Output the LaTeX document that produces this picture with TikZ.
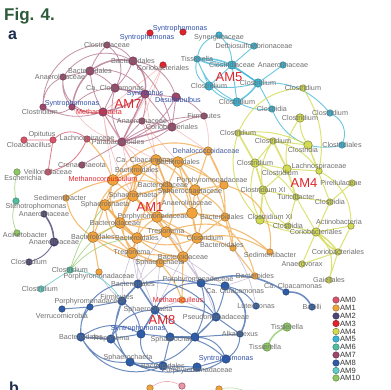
\documentclass[tikz,border=0pt]{standalone}
\usepackage{fontspec}
\setmainfont{Liberation Sans}
\usepackage{tikz}
\usetikzlibrary{backgrounds}
\definecolor{amzero}{HTML}{D9546A}
\definecolor{amone}{HTML}{F0A23C}
\definecolor{amtwo}{HTML}{4F4478}
\definecolor{amthree}{HTML}{E0242C}
\definecolor{amfour}{HTML}{D3DB52}
\definecolor{amfive}{HTML}{3AB4D4}
\definecolor{amsix}{HTML}{4FBE9E}
\definecolor{amseven}{HTML}{9C476B}
\definecolor{ameight}{HTML}{2F5CA6}
\definecolor{amnine}{HTML}{62CBC3}
\definecolor{amten}{HTML}{8DC865}
\definecolor{figgreen}{HTML}{2E5A3A}
\definecolor{panelnavy}{HTML}{1E2D4F}
\definecolor{synblue}{HTML}{2F4FA8}
\definecolor{labgray}{HTML}{6E6E6E}
\definecolor{lavgray}{HTML}{B4A6C6}
\tikzset{
  dot/.style={circle,inner sep=0pt,minimum size=6.5pt,line width=0.4pt},
  bigdot/.style={minimum size=11pt},
  middot/.style={minimum size=8.5pt},
  am0/.style={dot,fill=amzero,draw=amzero!60!black},
  am1/.style={dot,fill=amone,draw=amone!60!black},
  am2/.style={dot,fill=amtwo,draw=amtwo!60!black},
  am3/.style={dot,fill=amthree,draw=amthree!60!black},
  am4/.style={dot,fill=amfour,draw=amfour!50!black},
  am5/.style={dot,fill=amfive,draw=amfive!60!black},
  am6/.style={dot,fill=amsix,draw=amsix!60!black},
  am7/.style={dot,fill=amseven,draw=amseven!60!black},
  am8/.style={dot,fill=ameight,draw=ameight!60!black},
  am9/.style={dot,fill=amnine,draw=amnine!60!black},
  am10/.style={dot,fill=amten,draw=amten!60!black},
  lbl/.style={font=\fontsize{7.2}{8}\selectfont,text=labgray,inner sep=0pt},
  lab/.style={label={[lbl]center:#1}},
  amname/.style={font=\fontsize{13}{13}\selectfont,text=amthree,inner sep=0pt},
  legtxt/.style={font=\fontsize{7.6}{8}\selectfont,text=black!80,inner sep=0.5pt},
  e0/.style={amzero,opacity=0.8,line width=0.8pt},
  e1/.style={amone,opacity=0.7,line width=1.1pt},
  e2/.style={amtwo,opacity=0.8,line width=0.9pt},
  e4/.style={amfour,opacity=0.8,line width=1pt},
  e5/.style={amfive,opacity=0.75,line width=0.9pt},
  e7/.style={amseven,opacity=0.6,line width=0.8pt},
  e8/.style={ameight,opacity=0.7,line width=1pt},
  e9/.style={amnine,opacity=0.8,line width=0.8pt},
  e10/.style={amten,opacity=0.75,line width=0.7pt},
  epink/.style={amthree!60!white,opacity=0.5,line width=0.6pt},
  elav/.style={lavgray,opacity=0.7,line width=0.6pt}
}
\begin{document}
\begin{tikzpicture}[x=1pt,y=-1pt]
  \useasboundingbox (0,0) rectangle (391,389);
  % Panel titles
  \node[font=\fontsize{17}{17}\selectfont\bfseries,text=figgreen,anchor=base west,inner sep=0pt] (fig) at (4,20) {Fig. 4.};
  \node[font=\fontsize{16}{16}\selectfont\bfseries,text=panelnavy,anchor=base west,inner sep=0pt] (pa) at (8,39) {a};
  \node[font=\fontsize{16}{16}\selectfont\bfseries,text=panelnavy,anchor=base west,inner sep=0pt] (pb) at (9,393) {b};
  % AM3
  \node[am3,label={[lbl,xshift=-3pt,yshift=-5pt]center:\color{synblue}Syntrophomonas}] (r1) at (150,33) {};
  \node[am3,label={[lbl,xshift=-3pt,yshift=3pt]center:\color{synblue}Syntrophomonas}] (r2) at (183,32) {};
  \node[am3,label={[lbl,yshift=-3pt]center:Coriobacteriales}] (r3) at (163,65) {};
  % AM7
  \node[am7,lab=Clostridiaceae] (p1) at (107,45) {};
  \node[am7,middot,lab=Bacteroidales] (p2) at (133,61) {};
  \node[am7,middot,lab=Bacteroidales] (p3) at (90,71) {};
  \node[am7,label={[lbl,xshift=-3pt]center:Anaerolinaceae}] (p4) at (63,77) {};
  \node[am7,middot,lab=Ca. Cloacamonas] (p5) at (115,88) {};
  \node[am7,middot,lab={\color{synblue}Syntrophus}] (p6) at (145,94) {};
  \node[am7,middot,label={[lbl,xshift=2pt,yshift=-3pt]center:\color{synblue}Desulfobulbus}] (p7) at (176,97) {};
  \node[am7,label={[lbl,yshift=3pt]center:\color{synblue}Syntrophomonas}] (p8) at (72,107) {};
  \node[am7,label={[lbl,xshift=-3pt,yshift=-5pt]center:Clostridium}] (p9) at (43,107) {};
  \node[am7,middot,label={[lbl,xshift=-4pt]center:\color{amthree}Methanosaeta}] (p10) at (103,112) {};
  \node[am7,lab=Anaerolinaceae] (p11) at (142,121) {};
  \node[am7,middot,lab=Coriobacteriales] (p12) at (172,127) {};
  \node[am7,lab=Firmicutes] (p13) at (204,116) {};
  \node[am7,middot,label={[lbl,xshift=-4pt]center:Parabacteroides}] (p14) at (122,142) {};
  \node[am7,lab=Crenarchaeota] (p15) at (82,165) {};
  \node[amname] (am7txt) at (128,104) {AM7};
  % AM0
  \node[am0,label={[lbl,xshift=5pt,yshift=-5pt]center:Cloacibacillus}] (e1) at (24,140) {};
  \node[am0,label={[lbl,xshift=-11pt,yshift=5pt]center:Opitutus}] (e2) at (53,140) {};
  \node[am0,lab=Lachnospiraceae] (e3) at (87,139) {};
  \node[am0,lab=Veillonellaceae] (e4) at (48,172) {};
  % AM5
  \node[am5,label={[lbl,yshift=-3pt]center:Synergistaceae}] (c1) at (219,35) {};
  \node[am5,lab=Dethiosulfovibrionaceae] (c2) at (254,46) {};
  \node[am5,lab=Tissierella] (c3) at (197,59) {};
  \node[am5,middot,lab=Clostridiaceae] (c4) at (232,65) {};
  \node[am5,lab=Anaerolinaceae] (c5) at (283,65) {};
  \node[am5,middot,lab=Clostridium] (c6) at (209,86) {};
  \node[am5,middot,lab=Clostridium] (c7) at (258,83) {};
  \node[am5,middot,lab=Clostridium] (c8) at (237,102) {};
  \node[am5,lab=Clostridia] (c9) at (272,109) {};
  \node[am5,lab=Clostridium] (c10) at (330,113) {};
  \node[am5,lab=Clostridiales] (c11) at (342,145) {};
  \node[amname] (am5txt) at (229,77) {AM5};
  % AM4
  \node[am4,lab=Clostridium] (y1) at (303,88) {};
  \node[am4,middot,lab=Clostridium] (y2) at (300,118) {};
  \node[am4,lab=Clostridium] (y3) at (238,133) {};
  \node[am4,lab=Clostridium] (y4) at (273,141) {};
  \node[am4,middot,label={[lbl,xshift=-5pt,yshift=-5pt]center:Clostridia}] (y5) at (308,145) {};
  \node[am4,middot,lab=Clostridium] (y6) at (255,163) {};
  \node[am4,middot,label={[lbl,xshift=-7pt,yshift=-4pt]center:Clostridium}] (y7) at (287,169) {};
  \node[am4,label={[lbl,yshift=4pt]center:Lachnospiraceae}] (y8) at (319,171) {};
  \node[am4,label={[lbl,xshift=-11pt]center:Pirellulaceae}] (y9) at (352,183) {};
  \node[am4,middot,lab=Clostridium XI] (y10) at (263,190) {};
  \node[am4,lab=Turicibacter] (y11) at (296,197) {};
  \node[am4,lab=Clostridia] (y12) at (330,202) {};
  \node[am4,middot,label={[lbl,xshift=10pt,yshift=3pt]center:Clostridium XI}] (y13) at (260,220) {};
  \node[am4,lab=Clostridia] (y14) at (288,226) {};
  \node[am4,label={[lbl,xshift=-12pt,yshift=4pt]center:Actinobacteria}] (y15) at (351,226) {};
  \node[am4,middot,lab=Coriobacteriales] (y16) at (316,232) {};
  \node[am4,lab=Coriobacteriales] (y17) at (338,252) {};
  \node[am4,lab=Anaerovorax] (y18) at (302,264) {};
  \node[am4,lab=Gaiellales] (y19) at (329,280) {};
  \node[amname] (am4txt) at (304,183) {AM4};
  % AM1
  \node[am1,middot,label={[lbl,xshift=-2pt]center:\color{synblue!70!gray}Dehalococcoidaceae}] (o1) at (208,151) {};
  \node[am1,bigdot,label={[lbl,xshift=-11pt]center:Ca. Cloacamonas}] (o2) at (156,160) {};
  \node[am1,bigdot,lab=Bacteroidales] (o3) at (178,162) {};
  \node[am1,bigdot,lab=Bacteroidales] (o4) at (137,170) {};
  \node[am1,bigdot,label={[lbl,xshift=-10pt]center:\color{amthree}Methanocorpusculum}] (o5) at (113,180) {};
  \node[am1,bigdot,label={[lbl,xshift=-4pt,yshift=2pt]center:Bacteroidaceae}] (o6) at (167,187) {};
  \node[am1,bigdot,label={[lbl,xshift=-5pt,yshift=-2pt]center:Sphaerochaetaceae}] (o7) at (195,190) {};
  \node[am1,middot,label={[lbl,xshift=-12pt,yshift=4pt]center:Porphyromonadaceae}] (o8) at (224,185) {};
  \node[am1,bigdot,lab=Sphaerochaeta] (o9) at (133,196) {};
  \node[am1,bigdot,lab=Sphaerochaeta] (o10) at (105,205) {};
  \node[am1,label={[lbl,xshift=-6pt]center:Sedimentibacter}] (o11) at (66,198) {};
  \node[am1,bigdot,label={[lbl,xshift=-4pt]center:Porphyromonadaceae}] (o12) at (157,217) {};
  \node[am1,bigdot,label={[lbl,xshift=-5pt,yshift=10pt]center:Anaerolinaceae}] (o13) at (192,213) {};
  \node[am1,bigdot,label={[lbl,xshift=-5pt]center:Bacteroidaceae}] (o14) at (120,223) {};
  \node[am1,bigdot,lab=Bacteroidales] (o15) at (93,237) {};
  \node[am1,bigdot,lab=Treponema] (o16) at (166,232) {};
  \node[am1,bigdot,lab=Bacteroidales] (o17) at (137,238) {};
  \node[am1,bigdot,label={[lbl,xshift=8pt]center:Clostridium}] (o18) at (197,238) {};
  \node[am1,middot,label={[lbl,xshift=-3pt]center:Bacteroidales}] (o19) at (225,217) {};
  \node[am1,bigdot,lab=Treponema] (o20) at (132,253) {};
  \node[am1,bigdot,lab=Bacteroidaceae] (o21) at (183,257) {};
  \node[am1,middot,lab=Sphaerochaeta] (o22) at (160,263) {};
  \node[am1,label={[lbl,yshift=-5pt]center:Porphyromonadaceae}] (o23) at (99,272) {};
  \node[am1,label={[lbl,xshift=-11pt,yshift=3pt]center:Bacteroidales}] (o24) at (233,248) {};
  \node[am1,label={[lbl,yshift=-3pt]center:Sedimentibacter}] (o25) at (270,252) {};
  \node[am1,lab=Bacteroides] (o26) at (255,276) {};
  \node[am1,label={[lbl,xshift=-4pt]center:\color{amthree}Methanoculleus}] (o27) at (182,300) {};
  \node[amname] (am1txt) at (150,207) {AM1};
  % AM2, AM6, AM9, AM10
  \node[am2,lab=Anaerolinaceae] (d1) at (44,214) {};
  \node[am2,middot,lab=Anaerolinaceae] (d2) at (54,242) {};
  \node[am2,lab=Clostridium] (d3) at (29,262) {};
  \node[am10,label={[lbl,xshift=6pt,yshift=-6pt]center:Escherichia}] (h1) at (17,172) {};
  \node[am6,label={[lbl,xshift=20pt,yshift=-6pt]center:Stenotrophomonas}] (t1) at (16,201) {};
  \node[am10,label={[lbl,xshift=8pt,yshift=-2pt]center:Acinetobacter}] (h2) at (17,233) {};
  \node[am6,lab=Clostridium] (t2) at (70,270) {};
  \node[am9,label={[lbl,xshift=-1pt]center:Clostridium}] (t3) at (41,289) {};
  \node[am10,middot,lab=Tissierella] (g1) at (287,327) {};
  \node[am10,middot,label={[lbl,xshift=-2pt]center:Tissierella}] (g2) at (267,347) {};
  % AM8
  \node[am8,middot,label={[lbl,xshift=-5pt]center:Bacteroidales}] (b1) at (138,284) {};
  \node[am8,middot,label={[lbl,xshift=-3pt,yshift=3pt]center:Porphyromonadaceae}] (b2) at (201,283) {};
  \node[am8,middot,label={[lbl,xshift=10pt,yshift=-5pt]center:Ca. Cloacamonas}] (b3) at (225,286) {};
  \node[am8,middot,label={[lbl,xshift=-5pt,yshift=4pt]center:Firmicutes}] (b4) at (122,301) {};
  \node[am8,label={[lbl,yshift=5pt]center:Porphyromonadaceae}] (b5) at (90,307) {};
  \node[am8,label={[lbl,yshift=-7pt]center:Verrucomicrobia}] (b6) at (62,309) {};
  \node[am8,middot,label={[lbl,xshift=-7pt]center:Sphaerochaeta}] (b7) at (155,310) {};
  \node[am8,middot,label={[lbl,xshift=-3pt,yshift=5pt]center:\color{synblue}Syntrophomonas}] (b8) at (141,334) {};
  \node[am8,middot,lab=Bacteroidales] (b9) at (81,337) {};
  \node[am8,middot,lab=Treponema] (b10) at (111,339) {};
  \node[am8,middot,label={[lbl,xshift=-2pt,yshift=4pt]center:Sphaerochaeta}] (b11) at (130,362) {};
  \node[am8,middot,lab=Bacteroidales] (b12) at (163,366) {};
  \node[am8,middot,label={[lbl,xshift=5pt,yshift=-3pt]center:Sphaerochaeta}] (b13) at (170,337) {};
  \node[am8,middot] (b14) at (195,337) {};
  \node[am8,middot,lab=Pseudomonadaceae] (b15) at (216,317) {};
  \node[am8,lab=Luteimonas] (b16) at (256,306) {};
  \node[am8,lab=Bacilli] (b17) at (312,307) {};
  \node[am8,label={[lbl,xshift=7pt,yshift=6pt]center:Ca. Cloacamonas}] (b18) at (286,292) {};
  \node[am8,lab=Alkaliflexus] (b19) at (240,334) {};
  \node[am8,middot,label={[lbl,yshift=-4pt]center:Porphyromonadaceae}] (b20) at (197,367) {};
  \node[am8,middot,lab={\color{synblue}Syntrophomonas}] (b21) at (226,359) {};
  \node[amname] (am8txt) at (162,320) {AM8};
  % panel b (cut off)
  \node[am1] (q1) at (150,388) {};
  \node[dot,fill=amzero!60!white,draw=amzero!60!black] (q2) at (182,386) {};
  \node[am1] (q3) at (219,389) {};
  \coordinate (qe) at (252,395);
  % Legend
  \node[am0,minimum size=6.5pt,label={[legtxt]east:AM0}] (k0) at (336,300) {};
  \node[am1,minimum size=6.5pt,label={[legtxt]east:AM1}] (k1) at (336,308) {};
  \node[am2,minimum size=6.5pt,label={[legtxt]east:AM2}] (k2) at (336,316) {};
  \node[am3,minimum size=6.5pt,label={[legtxt]east:AM3}] (k3) at (336,323.5) {};
  \node[am4,minimum size=6.5pt,label={[legtxt]east:AM4}] (k4) at (336,331.5) {};
  \node[am5,minimum size=6.5pt,label={[legtxt]east:AM5}] (k5) at (336,339) {};
  \node[am6,minimum size=6.5pt,label={[legtxt]east:AM6}] (k6) at (336,347) {};
  \node[am7,minimum size=6.5pt,label={[legtxt]east:AM7}] (k7) at (336,355) {};
  \node[am8,minimum size=6.5pt,label={[legtxt]east:AM8}] (k8) at (336,363) {};
  \node[am9,minimum size=6.5pt,label={[legtxt]east:AM9}] (k9) at (336,370.5) {};
  \node[am10,minimum size=6.5pt,label={[legtxt]east:AM10}] (k10) at (336,378) {};
  % Edges
  \begin{scope}[on background layer]
    % AM7
    \draw[e7,line width=1.5pt] (p2) to[bend right=20] (p3) (p3) to[bend right=15] (p8) (p6) to[bend left=10] (p10) (p5) to (p6) (p2) to[bend left=25] (p6) (p6) to (p14) (p12) to (p14);
    \draw[e7] (p1) to[bend right=45] (p9) (p1) to[bend left=20] (p2) (p1) to[bend right=10] (p3) (p2) to[bend left=15] (p12) (p3) to (p4) (p3) to[bend left=10] (p5) (p3) to[bend right=10] (p10) (p4) to[bend right=20] (p8) (p4) to[bend right=30] (p9) (p5) to (p10) (p6) to (p7) (p6) to[bend left=10] (p11) (p6) to (p12) (p7) to (p12) (p7) to[bend left=15] (p13) (p8) to[bend right=15] (p10) (p9) to[bend right=20] (p10) (p10) to (p14) (p11) to (p12) (p11) to (p14) (p12) to[bend left=10] (p13) (p2) to[bend left=30] (p7) (p8) to[bend left=20] (p5) (p9) to[bend right=35] (p8) (p12) to[bend left=20] (p14) (p15) to (p14) (p1) to[bend left=40] (p5) (p2) to[bend right=40] (p4) (p3) to[bend left=30] (p6) (p5) to[bend right=20] (p14) (p7) to[bend left=20] (p14) (p10) to[bend right=20] (p11) (p4) to[bend right=50] (p10) (p2) to[bend left=10] (p5) (p13) to[bend right=15] (p14);
    \draw[epink] (r3) to (p10) (r3) to (p14) (p10) to (o5) (p10) to (o4) (p14) to (o2) (p14) to (o4) (p14) to (o9) (p11) to (o3) (p12) to (o1) (p13) to[bend left=10] (o1) (p6) to (o2) (p8) to[bend right=20] (p14) (p10) to[bend right=10] (o9) (p14) to (o6) (p11) to (o6) (r3) to (p11);
    % AM0
    \draw[e0] (e1) to (e2) (e2) to[bend left=40] (e3) (e3) to[bend left=25] (e4) (e4) to (e2) (e3) to (p14);
    % AM5
    \draw[e5,line width=1.6pt] (c3) to[bend right=12] (c4) (c3) to[bend left=12] (c4) (c7) to[bend left=10] (c8) (c4) to (c7);
    \draw[e5] (c1) to[bend left=20] (c4) (c1) to (c2) (c2) to (c4) (c3) to (c6) (c3) to[bend right=20] (c8) (c6) to[bend right=15] (c8) (c6) to (c4) (c4) to (c8) (c7) to (c9) (c8) to[bend right=15] (c9) (c5) to (c7) (c3) to[bend left=15] (c7) (c9) to[bend right=40] (c11) (c10) to[bend left=40] (c11) (c1) to[bend right=30] (c3) (c7) to[bend left=25] (c10) (c6) to[bend right=10] (c7) (c3) to[bend right=35] (c6);
    % AM4
    \draw[e4,line width=1.6pt] (y3) to[bend left=10] (y4) (y4) to (y7) (y6) to (y10) (y10) to (y13) (y16) to[bend left=10] (y17) (y7) to (y11) (y16) to[bend right=10] (y17) (y3) to (y6);
    \draw[e4] (y1) to[bend right=30] (y3) (y2) to[bend right=20] (y7) (y4) to (y6) (y4) to (y5) (y6) to (y7) (y7) to (y10) (y10) to (y11) (y6) to[bend right=20] (y13) (y13) to (y14) (y11) to (y14) (y11) to (y16) (y7) to (y8) (y8) to (y5) (y5) to (y12) (y11) to (y12) (y12) to (y16) (y15) to (y17) (y15) to (y16) (y17) to (y19) (y17) to (y18) (y18) to (y16) (y12) to (y9) (y3) to[bend right=30] (y13) (y4) to[bend left=20] (y8) (y14) to (y16) (y8) to[bend left=30] (y15) (y2) to[bend right=15] (y5) (y1) to[bend left=20] (y8) (y3) to[bend left=15] (y5) (y6) to[bend left=15] (y11) (y10) to[bend right=20] (y14) (y4) to[bend right=20] (y10) (y16) to[bend left=30] (y19) (y13) to[bend right=15] (y16);
    % AM1
    \draw[e1,line width=1.8pt] (o2) to (o3) (o4) to (o9) (o6) to (o9) (o9) to (o12) (o12) to (o16) (o14) to (o17) (o16) to (o18) (o10) to (o14) (o3) to (o7) (o6) to (o12) (o2) to (o6) (o13) to (o18) (o17) to (o20) (o9) to (o10) (o12) to (o13) (o16) to (o21);
    \draw[e1] (o2) to (o4) (o2) to[bend right=10] (o9) (o3) to (o6) (o3) to[bend left=10] (o1) (o4) to (o5) (o4) to (o6) (o5) to (o9) (o5) to (o10) (o6) to (o7) (o7) to (o8) (o7) to (o13) (o8) to (o1) (o9) to (o14) (o10) to (o15) (o12) to (o14) (o14) to (o15) (o15) to (o17) (o16) to (o17) (o13) to (o19) (o18) to (o19) (o18) to (o21) (o18) to[bend left=10] (o24) (o20) to (o21) (o20) to (o22) (o21) to (o22) (o15) to (o20) (o12) to (o18) (o6) to (o13) (o3) to (o8) (o4) to (o14) (o10) to (o17) (o5) to[bend right=10] (o11) (e3) to[bend left=10] (o5) (o19) to (o24) (o18) to[bend left=20] (o25) (o8) to[bend left=40] (o25) (o1) to (o7) (o1) to[bend left=15] (o19) (o22) to[bend left=10] (o27) (o21) to (o27) (o23) to (o15) (o24) to (o26) (o9) to (o16) (o2) to (o12) (o3) to (o13) (o13) to[bend left=30] (o26) (o5) to[bend left=40] (o1) (o10) to[bend right=20] (o20) (o14) to (o16) (o15) to[bend right=25] (o21) (o17) to[bend right=20] (o18) (o6) to[bend right=20] (o17) (o7) to[bend left=20] (o18) (o4) to[bend right=30] (o15) (o2) to[bend left=30] (o13) (o3) to[bend left=35] (o19) (o9) to[bend right=30] (o20) (o5) to[bend right=35] (o17) (o12) to[bend left=20] (o21) (o6) to[bend left=25] (o16) (o7) to[bend left=30] (o24) (o14) to[bend right=30] (o22) (o10) to[bend left=40] (o6) (o4) to[bend left=30] (o3) (o16) to[bend left=30] (o25) (o11) to[bend right=20] (o15) (o5) to[bend left=15] (o2) (o17) to[bend right=15] (o21) (o12) to[bend right=20] (o20) (o13) to[bend left=15] (o8);
    \draw[elav] (o20) to (b1) (o21) to (b2) (o22) to (b1) (o16) to[bend left=10] (b2) (o17) to (b1) (o21) to (b7) (o27) to (b7) (o22) to (b2) (o20) to[bend right=10] (b4) (o21) to (b3) (o27) to (b15) (o26) to (b3) (o24) to[bend left=10] (b16) (o22) to (b7) (o20) to (b7) (o16) to[bend right=10] (b1) (o21) to[bend left=10] (b15) (o23) to[bend right=10] (b4);
    % AM8
    \draw[e8,line width=1.6pt] (b1) to (b4) (b1) to (b7) (b7) to (b8) (b2) to[bend left=25] (b18) (b18) to[bend left=30] (b17) (b9) to (b10) (b11) to[bend right=15] (b12) (b13) to (b14) (b3) to[bend left=45] (b19);
    \draw[e8] (b1) to[bend left=10] (b2) (b2) to (b3) (b2) to[bend left=15] (b15) (b3) to[bend left=20] (b16) (b4) to (b5) (b5) to (b6) (b5) to[bend right=20] (b9) (b7) to (b13) (b8) to (b10) (b10) to (b11) (b9) to[bend right=30] (b11) (b12) to (b20) (b14) to (b19) (b15) to (b14) (b15) to (b19) (b2) to[bend left=20] (b14) (b20) to (b21) (b21) to[bend right=25] (b19) (b12) to (b13) (b9) to[bend right=40] (b12) (b1) to[bend right=50] (b9) (b4) to (b10) (b8) to (b13) (b11) to[bend right=20] (b20) (b7) to[bend left=20] (b15) (b13) to[bend left=20] (b21) (b4) to[bend right=30] (b11) (b7) to (b14) (b1) to[bend left=30] (b15) (b8) to[bend right=40] (b12) (b9) to[bend left=30] (b8) (b14) to[bend left=30] (b21) (b3) to[bend left=20] (b14) (b7) to[bend right=30] (b10) (b4) to[bend left=20] (b8) (b11) to[bend right=30] (b14) (b12) to[bend right=25] (b21) (b2) to[bend right=30] (b7);
    % AM2, AM6, AM9, AM10
    \draw[e2,line width=1.6pt] (d1) to[bend left=15] (d2);
    \draw[e2] (d2) to[bend left=20] (d3);
    \draw[e10] (h1) to[bend right=10] (t1) (t1) to[bend right=20] (h2) (t2) to[bend left=15] (o14) (t2) to[bend left=10] (o10) (t2) to[bend left=20] (o17);
    \draw[e10,line width=1.6pt] (g1) to[bend right=20] (g2);
    \draw[e9] (t2) to (t3) (t2) to[bend left=25] (b4);
    \draw[amzero!50!white,line width=0.6pt] (q1) to[bend left=30] (q2);
    \draw[amten!60!white,line width=0.6pt] (q3) to[bend left=20] (qe);
  \end{scope}
\end{tikzpicture}
\end{document}
